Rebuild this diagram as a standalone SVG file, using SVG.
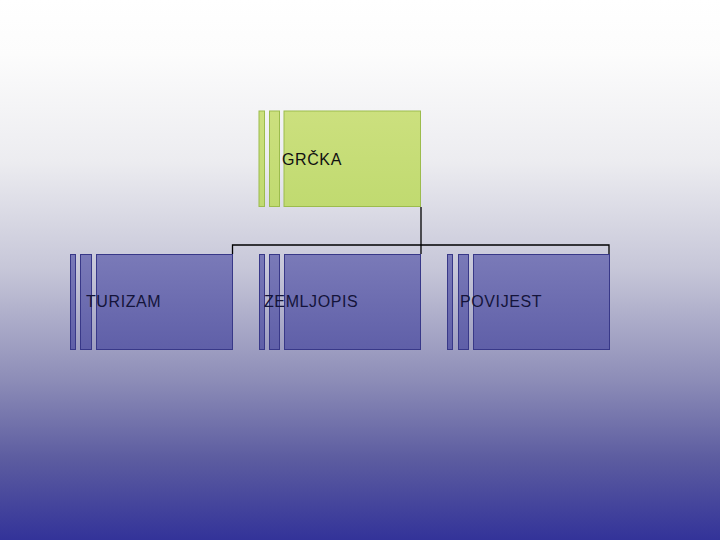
<svg xmlns="http://www.w3.org/2000/svg" width="720" height="540" viewBox="0 0 720 540">
<defs>
<linearGradient id="bg" x1="0" y1="0" x2="0" y2="1">
<stop offset="0" stop-color="#ffffff"/>
<stop offset="0.1" stop-color="#fcfcfc"/>
<stop offset="0.3" stop-color="#ececf0"/>
<stop offset="0.5" stop-color="#c6c6d8"/>
<stop offset="0.7" stop-color="#8e8eb8"/>
<stop offset="0.85" stop-color="#5c5ca0"/>
<stop offset="1" stop-color="#333399"/>
</linearGradient>
<linearGradient id="blue" x1="0" y1="0" x2="0" y2="1">
<stop offset="0" stop-color="#7a7ab8"/>
<stop offset="1" stop-color="#5f5fa8"/>
</linearGradient>
<linearGradient id="green" x1="0" y1="0" x2="0" y2="1">
<stop offset="0" stop-color="#cce07e"/>
<stop offset="1" stop-color="#c0da70"/>
</linearGradient>
<style>
.g{fill:url(#green);stroke:#9cbc4c;stroke-width:1}
.b{fill:url(#blue);stroke:#383888;stroke-width:1}
.t{font-family:"Liberation Sans",Arial,sans-serif;font-size:16px;letter-spacing:0.6px}
.tb{fill:#14143a}
.tg{fill:#111111}
.c{fill:none;stroke:#000000;stroke-width:1.3}
</style>
</defs>
<rect x="0" y="0" width="720" height="540" fill="url(#bg)"/>
<g id="connectors">
<path class="c" d="M421,207 V245"/>
<path class="c" d="M232.5,254 V245 H609 V254"/>
<path class="c" d="M421,245 V254" stroke-width="0.8"/>
</g>
<g id="node-grcka">
<rect class="g" x="259" y="111" width="5.5" height="95.5"/>
<rect class="g" x="269.5" y="111" width="10" height="95.5"/>
<rect class="g" x="284" y="111" width="136.5" height="95.5"/>
<text class="t tg" x="282" y="165">GRČKA</text>
</g>
<g id="node-turizam">
<rect class="b" x="70.5" y="254.5" width="5" height="95"/>
<rect class="b" x="80.5" y="254.5" width="11" height="95"/>
<rect class="b" x="96.5" y="254.5" width="136" height="95"/>
<text class="t tb" x="86" y="307">TURIZAM</text>
</g>
<g id="node-zemljopis">
<rect class="b" x="259.5" y="254.5" width="5" height="95"/>
<rect class="b" x="269.5" y="254.5" width="10" height="95"/>
<rect class="b" x="284.5" y="254.5" width="136" height="95"/>
<text class="t tb" x="264" y="307">ZEMLJOPIS</text>
</g>
<g id="node-povijest">
<rect class="b" x="447.5" y="254.5" width="5" height="95"/>
<rect class="b" x="458.5" y="254.5" width="10" height="95"/>
<rect class="b" x="473.5" y="254.5" width="136" height="95"/>
<text class="t tb" x="460" y="307">POVIJEST</text>
</g>
</svg>
